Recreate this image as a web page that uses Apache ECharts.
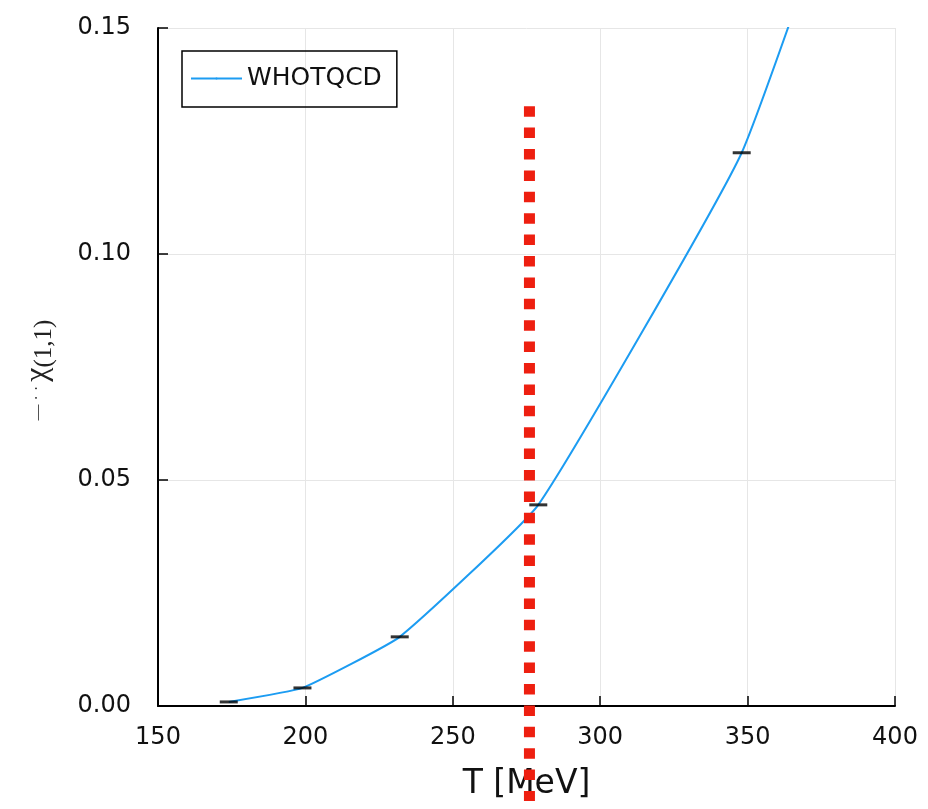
<!DOCTYPE html>
<html>
<head>
<meta charset="utf-8">
<script src="https://cdn.jsdelivr.net/npm/echarts@6/dist/echarts.min.js"></script>
<style>html,body{margin:0;padding:0;background:#fff}#c{width:928px;height:809px}</style>
</head>
<body>
<div id="c"></div>
<script>
// Data
const temps = [174, 199, 232, 279, 348, 400];
const chi11 = [0.0009, 0.0040, 0.0153, 0.0445, 0.1224, 0.2186];
const barTemps = [174, 199, 232, 279, 348];
const barChi = [0.0009, 0.0040, 0.0153, 0.0445, 0.1224];
const markerT = [276, 276];
const markerY = [0.1327, -0.021];
const xTicks = [150, 200, 250, 300, 350, 400];
const yTicks = [0.00, 0.05, 0.10, 0.15];

const chart = echarts.init(document.getElementById('c'), null, {renderer: 'canvas'});
const font = 'DejaVu Sans';
chart.setOption({
  animation: false,
  backgroundColor: '#fff',
  grid: {left: 158, right: 33, top: 28, bottom: 103, containLabel: false},
  legend: {
    data: ['WHOTQCD'],
    left: 182, top: 51,
    orient: 'vertical',
    itemWidth: 51, itemHeight: 2.5,
    padding: [15, 15, 16, 8],
    borderColor: '#000', borderWidth: 1.5,
    textStyle: {fontFamily: font, fontSize: 25, color: '#111'}
  },
  xAxis: {
    type: 'value', min: xTicks[0], max: xTicks[xTicks.length - 1], interval: 50,
    name: 'T [MeV]', nameLocation: 'middle', nameGap: 62,
    nameTextStyle: {fontFamily: font, fontSize: 33, color: '#111'},
    axisLine: {show: true, onZero: false, lineStyle: {color: '#000', width: 2}},
    axisTick: {show: true, inside: true, length: 10, lineStyle: {color: '#000', width: 1.5}},
    axisLabel: {fontFamily: font, fontSize: 24, color: '#111', margin: 20},
    splitLine: {show: true, lineStyle: {color: '#e6e6e6', width: 1}}
  },
  yAxis: {
    type: 'value', min: yTicks[0], max: yTicks[yTicks.length - 1], interval: 0.05,
    axisLine: {show: true, onZero: false, lineStyle: {color: '#000', width: 2}},
    axisTick: {show: true, inside: true, length: 10, lineStyle: {color: '#000', width: 1.5}},
    axisLabel: {fontFamily: font, fontSize: 24, color: '#111', margin: 27,
      formatter: v => v.toFixed(2)},
    splitLine: {show: true, lineStyle: {color: '#e6e6e6', width: 1}}
  },
  graphic: [{
    type: 'text', x: 38, y: 370, rotation: Math.PI / 2,
    style: {
      text: '{a|— · · }{b|χ}{s|(1,1)}',
      align: 'center', verticalAlign: 'middle',
      rich: {
        a: {fontFamily: 'Liberation Serif', fontSize: 16, fill: '#333'},
        b: {fontFamily: 'Liberation Serif', fontSize: 32, fill: '#222'},
        s: {fontFamily: 'Liberation Serif', fontSize: 25, fill: '#222', padding: [12, 0, 0, 0]}
      }
    }
  }],
  series: [
    {
      name: 'WHOTQCD', type: 'line',
      data: temps.map((t, i) => [t, chi11[i]]),
      smooth: 0.12, symbol: 'none', legendIcon: 'rect',
      lineStyle: {color: '#1c9cf2', width: 2},
      itemStyle: {color: '#1c9cf2'},
      z: 3
    },
    {
      name: 'err', type: 'scatter',
      data: barTemps.map((t, i) => [t, barChi[i]]),
      symbol: 'rect', symbolSize: [18, 3],
      itemStyle: {color: '#000'},
      z: 4
    },
    {
      name: 'Tc', type: 'line',
      data: markerT.map((t, i) => [t, markerY[i]]),
      symbol: 'none', clip: false,
      lineStyle: {color: '#ee1f10', width: 11, type: [10.5, 10.9], cap: 'butt'},
      z: 5
    }
  ]
});
</script>
</body>
</html>
